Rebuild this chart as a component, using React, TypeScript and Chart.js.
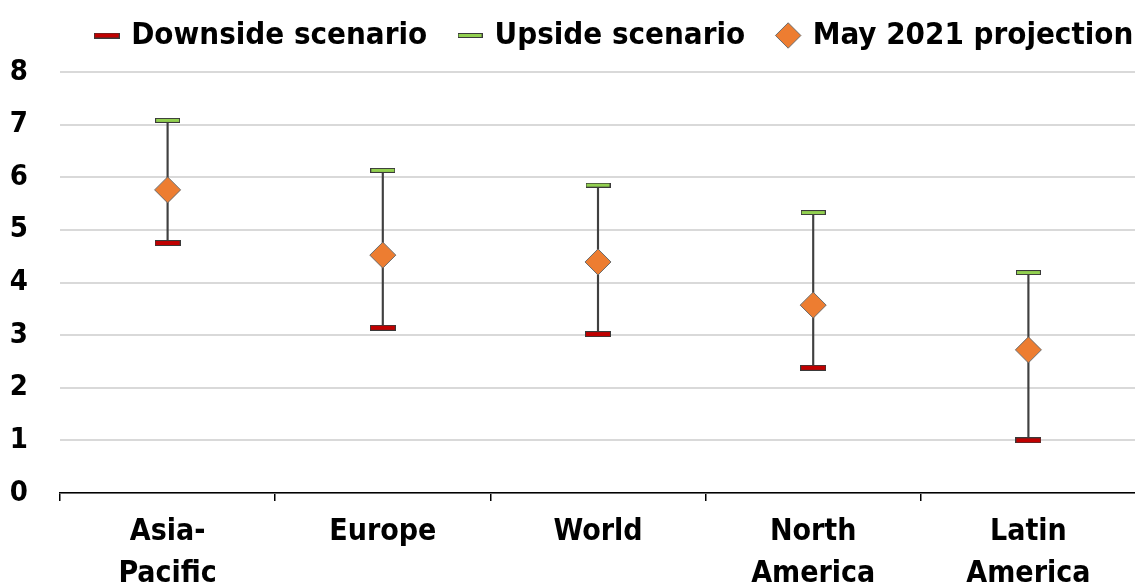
import React, { useEffect, useRef } from "react";
import { Chart, registerables } from "chart.js";

Chart.register(...registerables);

const categories: string[][] = [
  ["Asia-", "Pacific"],
  ["Europe"],
  ["World"],
  ["North", "America"],
  ["Latin", "America"],
];
const downside = [4.75, 3.14, 3.02, 2.38, 1.0];
const upside = [7.08, 6.13, 5.85, 5.33, 4.19];
const projection = [5.76, 4.52, 4.39, 3.57, 2.72];
const yMin = 0;
const yMax = 8;
const yStep = 1;

const FONT = "'Liberation Sans Narrow', 'DejaVu Sans Condensed', 'Liberation Sans', sans-serif";

function makeDash(fill: string, w: number, h: number): HTMLCanvasElement {
  const c = document.createElement("canvas");
  c.width = w;
  c.height = h;
  const ctx = c.getContext("2d")!;
  ctx.fillStyle = "#3a3a3a";
  ctx.fillRect(0, 0, w, h);
  ctx.fillStyle = fill;
  ctx.fillRect(1, 1, w - 2, h - 2);
  return c;
}

const legendShift = {
  id: "legendShift",
  afterLayout(chart: any) {
    const lg = chart.legend;
    if (!lg) return;
    const dx = 43;
    const dy = -11;
    lg.left += dx;
    lg.right += dx;
    lg.top += dy;
    lg.bottom += dy;
  },
};

export default function App() {
  const ref = useRef<HTMLCanvasElement | null>(null);

  useEffect(() => {
    if (!ref.current) return;
    const redDash = makeDash("#C00000", 26, 6);
    const greenDash = makeDash("#92D050", 25, 5);

    const chart = new Chart(ref.current, {
      type: "bar",
      data: {
        labels: categories,
        datasets: [
          {
            type: "line",
            label: "Downside scenario",
            data: downside,
            showLine: false,
            pointStyle: redDash as any,
            pointRadius: 10,
            backgroundColor: "#C00000",
            borderColor: "#3a3a3a",
            order: 1,
          },
          {
            type: "line",
            label: "Upside scenario",
            data: upside,
            showLine: false,
            pointStyle: greenDash as any,
            pointRadius: 10,
            backgroundColor: "#92D050",
            borderColor: "#3a3a3a",
            order: 1,
          },
          {
            type: "line",
            label: "May 2021 projection",
            data: projection,
            showLine: false,
            pointStyle: "rectRot",
            pointRadius: 13,
            pointBorderWidth: 1,
            backgroundColor: "#ED7D31",
            borderColor: "#6b6b6b",
            order: 0,
          },
          {
            type: "bar",
            label: "range",
            data: downside.map((d, i) => [d, upside[i]]) as any,
            backgroundColor: "#404040",
            barThickness: 1.5,
            order: 2,
          },
        ],
      },
      plugins: [legendShift],
      options: {
        animation: false,
        responsive: true,
        maintainAspectRatio: false,
        devicePixelRatio: 1,
        layout: { padding: { left: 0, right: 5, top: -3, bottom: 0 } },
        plugins: {
          tooltip: { enabled: false },
          legend: {
            display: true,
            position: "top",
            align: "center",
            labels: {
              filter: (item) => item.text !== "range",
              sort: (a, b) => (a.datasetIndex ?? 0) - (b.datasetIndex ?? 0),
              usePointStyle: true,
              boxWidth: 18,
              boxHeight: 18,
              padding: 34,
              color: "#000",
              font: { family: FONT, size: 31, weight: "bold", lineHeight: 1.0 },
            },
          },
        },
        scales: {
          x: {
            type: "category",
            offset: true,
            grid: {
              offset: true,
              drawOnChartArea: false,
              drawTicks: true,
              tickLength: 8,
              color: "#000",
              lineWidth: 1.5,
            },
            border: { display: true, color: "#000", width: 1.5 },
            ticks: {
              color: "#000",
              padding: 10,
              maxRotation: 0,
              autoSkip: false,
              font: { family: FONT, size: 30, weight: "bold", lineHeight: 1.4 },
            },
            afterFit: (scale: any) => {
              scale.height = 95;
            },
          },
          y: {
            min: yMin,
            max: yMax,
            ticks: {
              stepSize: yStep,
              color: "#000",
              padding: 32,
              font: { family: FONT, size: 29, weight: "bold" },
            },
            grid: { color: "#d9d9d9", lineWidth: 2, drawTicks: false },
            border: { display: false },
            afterFit: (scale: any) => {
              scale.width = 60;
            },
          },
        },
      },
    });
    return () => chart.destroy();
  }, []);

  return (
    <div style={{ position: "fixed", left: 0, top: 0, width: 1135, height: 588, overflow: "hidden", background: "#fff" }}>
      <div style={{ position: "absolute", left: 0, top: 0, width: 1150, height: 588 }}>
        <canvas ref={ref} />
      </div>
    </div>
  );
}
